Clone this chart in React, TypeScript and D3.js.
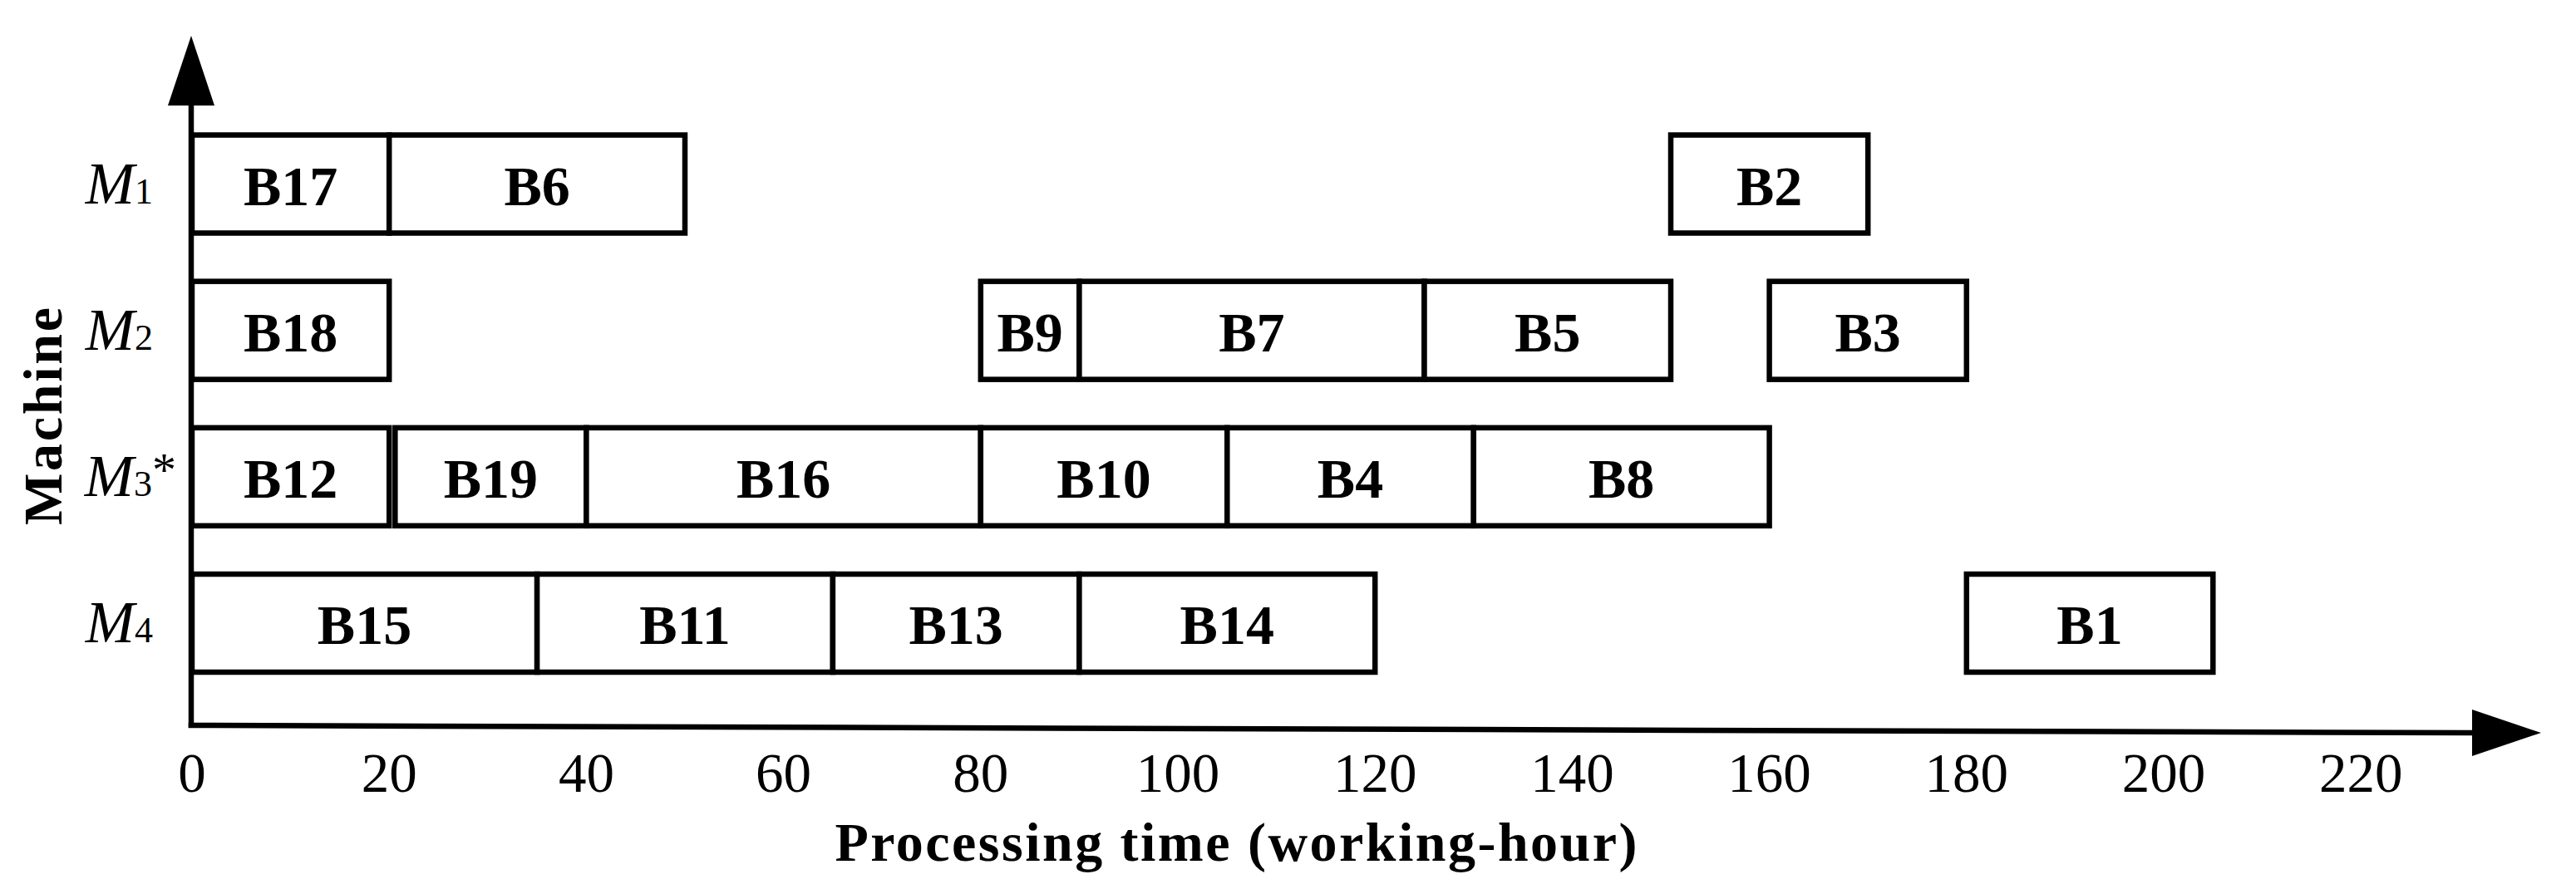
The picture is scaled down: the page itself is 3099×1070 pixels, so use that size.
import React from "react";
import * as d3 from "d3";

// ---- data ----
const machines = ["M1", "M2", "M3", "M4"];
const machineSub = ["1", "2", "3", "4"];
const machineMark = ["", "", "*", ""];

const jobNames = ["B17", "B6", "B2", "B18", "B9", "B7", "B5", "B3", "B12", "B19", "B16", "B10", "B4", "B8", "B15", "B11", "B13", "B14", "B1"];
const jobMachine = ["M1", "M1", "M1", "M2", "M2", "M2", "M2", "M2", "M3", "M3", "M3", "M3", "M3", "M3", "M4", "M4", "M4", "M4", "M4"];
const jobStart = [0, 20, 150, 0, 80, 90, 125, 160, 0, 20.6, 40, 80, 105, 130, 0, 35, 65, 90, 180];
const jobEnd = [20, 50, 170, 20, 90, 125, 150, 180, 20, 40, 80, 105, 130, 160, 35, 65, 90, 120, 205];

const xTicks = [0, 20, 40, 60, 80, 100, 120, 140, 160, 180, 200, 220];
const xTitle = "Processing time (working-hour)";
const yTitle = "Machine";

const W = 3099;
const H = 1070;
const FONT = "'Liberation Serif', 'Times New Roman', serif";

export default function App() {
  const x = d3.scaleLinear().domain([0, 220]).range([231, 231 + 220 * 11.86]);
  const yc = d3.scalePoint<string>().domain(machines).range([221.5, 750]);
  const barH = 118;
  const sw = 6.5;

  const axisX = 230;
  const axisYTop = 127;
  const axisLeftY = 873;
  const axisRightX = 2974;
  const axisRightY = 882;

  return (
    <div style={{ position: "absolute", left: 0, top: 0 }}>
      <svg width={W} height={H} style={{ display: "block", background: "#fff" }} fontFamily={FONT}>
        <rect x={0} y={0} width={W} height={H} fill="#fff" />
        {/* bars */}
        {jobNames.map((name, i) => {
          const cy = yc(jobMachine[i]) as number;
          const x0 = x(jobStart[i]);
          const x1 = x(jobEnd[i]);
          return (
            <g key={name}>
              <rect x={x0} y={cy - barH / 2} width={x1 - x0} height={barH} fill="#fff" stroke="#000" strokeWidth={sw} />
              <text x={(x0 + x1) / 2} y={cy + 25} textAnchor="middle" fontSize={68} fontWeight="bold" fill="#000">
                {name}
              </text>
            </g>
          );
        })}
        {/* y axis */}
        <line x1={axisX} y1={axisLeftY + 3} x2={axisX} y2={axisYTop} stroke="#000" strokeWidth={sw} />
        <path d={`M${axisX},43 L${axisX - 28},${axisYTop} L${axisX + 28},${axisYTop} Z`} fill="#000" />
        {/* x axis */}
        <line x1={axisX - sw / 2} y1={axisLeftY} x2={axisRightX} y2={axisRightY} stroke="#000" strokeWidth={sw} />
        <path d={`M${axisRightX},${axisRightY - 28} L3057,${axisRightY} L${axisRightX},${axisRightY + 28} Z`} fill="#000" />
        {/* x tick labels */}
        {xTicks.map((t) => (
          <text key={t} x={x(t)} y={953} textAnchor="middle" fontSize={67} fill="#000">
            {t}
          </text>
        ))}
        {/* y labels */}
        {machines.map((m, i) => {
          const cy = yc(m) as number;
          const rightX = machineMark[i] ? 212 : 184;
          return (
            <text key={m} x={rightX} y={cy + 23} textAnchor="end" fill="#000" fontSize={71}>
              <tspan fontStyle="italic">M</tspan>
              <tspan fontSize={44}>{machineSub[i]}</tspan>
              {machineMark[i] ? (
                <tspan fontSize={58} dy={-12}>{machineMark[i]}</tspan>
              ) : null}
            </text>
          );
        })}
        {/* axis titles */}
        <text x={1487} y={1036} textAnchor="middle" fontSize={66} fontWeight="bold" textLength={965} lengthAdjust="spacing" fill="#000">
          {xTitle}
        </text>
        <text transform="translate(74,501) rotate(-90)" textAnchor="middle" fontSize={66} fontWeight="bold" textLength={262} lengthAdjust="spacing" fill="#000">
          {yTitle}
        </text>
      </svg>
    </div>
  );
}
